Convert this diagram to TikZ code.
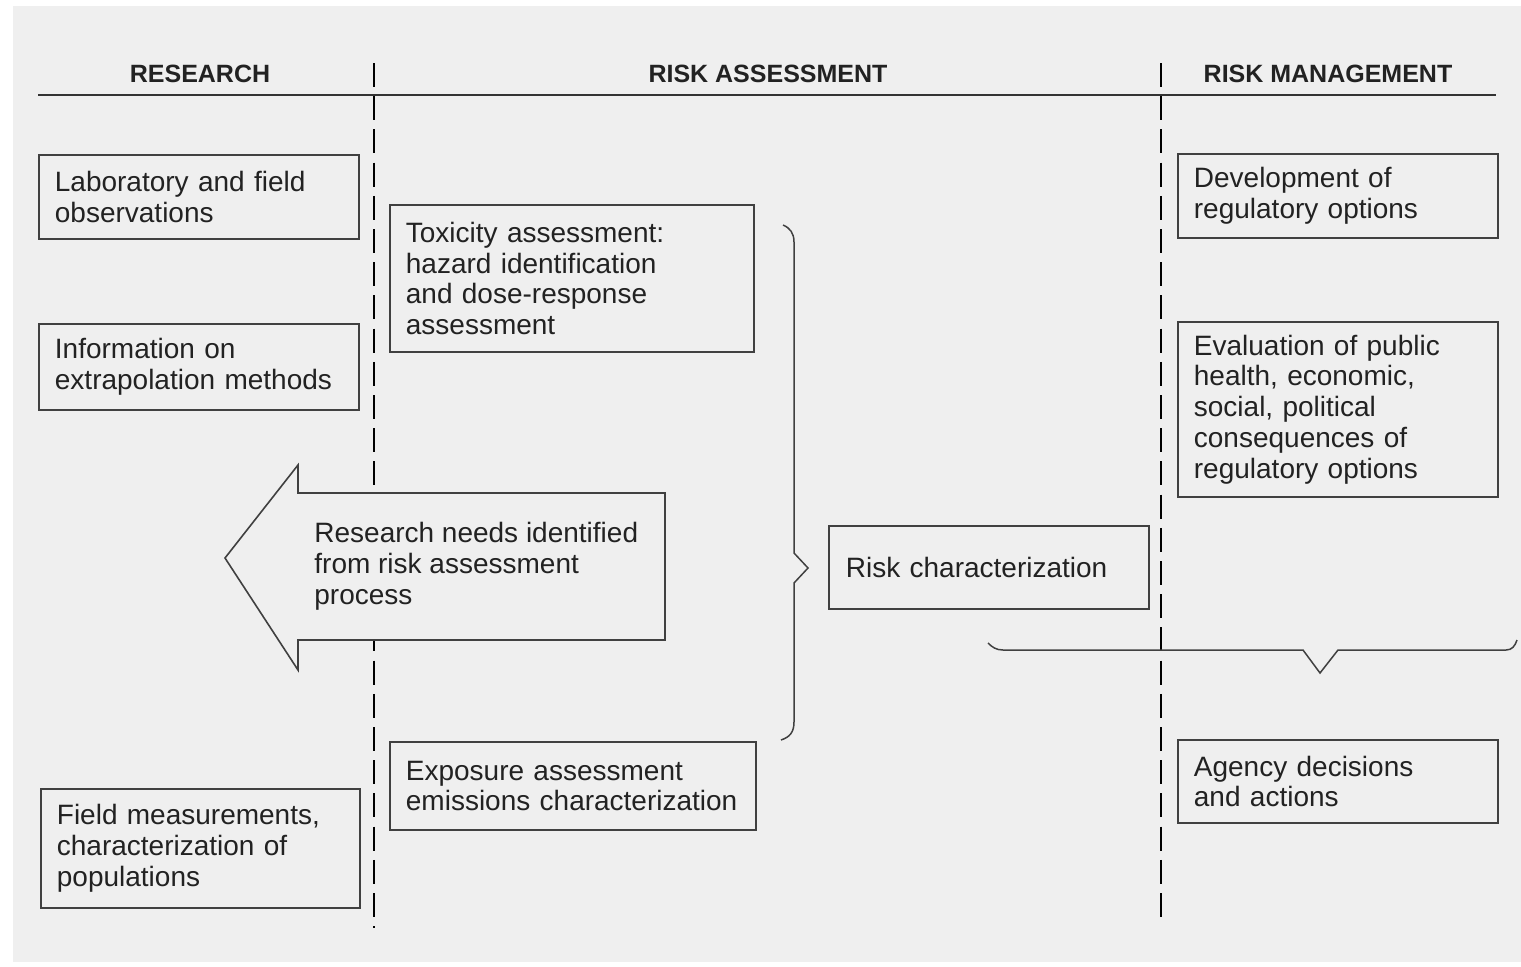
\documentclass[tikz,border=0pt]{standalone}
\usepackage{fontspec}
\setmainfont{Liberation Sans}
\newcommand{\dgbody}{\fontsize{14}{15.4}\selectfont}
\newcommand{\dghead}{\fontsize{12.5}{14}\selectfont\bfseries}
\definecolor{bggray}{HTML}{EFEFEF}
\definecolor{inkc}{HTML}{222222}
\tikzset{
  box/.style={draw=black!75, line width=0.9pt, rectangle, anchor=north west,
    align=left, inner xsep=8pt, inner ysep=0pt, font=\dgbody, text=inkc},
  head/.style={font=\dghead, text=inkc, anchor=base},
  divider/.style={draw=black, line width=1.2pt, dash pattern=on 12pt off 4.6pt},
  rule/.style={draw=black!80, line width=0.75pt},
  brace/.style={draw=black!75, line width=0.75pt, line join=miter},
}
\begin{document}
\begin{tikzpicture}[x=0.5pt,y=-0.5pt]
\useasboundingbox (0,0) rectangle (1521,966);
\fill[white] (0,0) rectangle (1521,966);
\fill[bggray] (13,6) rectangle (1521,962);

% headings
\node[head] (hres) at (200,82) {RESEARCH};
\node[head] (hra) at (768,82) {RISK ASSESSMENT};
\node[head] (hrm) at (1328,82) {RISK MANAGEMENT};

% rule and dividers
\coordinate (rl) at (38,95);
\coordinate (rr) at (1496,95);
\draw[rule] (rl) -- (rr);
\coordinate (d1t) at (374,63);
\coordinate (d1b) at (374,928);
\coordinate (d2t) at (1161,63);
\coordinate (d2b) at (1161,926);
\draw[divider] (d1t) -- (d1b);
\draw[divider] (d2t) -- (d2b);

% research column
\node[box, text width=144pt, minimum height=42pt] (lab) at (38,154)
  {Laboratory and field\\observations};
\node[box, text width=144pt, minimum height=43pt] (info) at (38,323)
  {Information on\\extrapolation methods};
\node[box, text width=143.5pt, minimum height=59.5pt] (field) at (40,788)
  {Field measurements,\\characterization of\\populations};

% risk assessment column
\node[box, text width=166pt, minimum height=73.5pt] (tox) at (389,204)
  {Toxicity assessment:\\hazard identification\\and dose-response\\assessment};
\node[box, text width=167pt, minimum height=44pt] (expo) at (389,741)
  {Exposure assessment\\emissions characterization};
\node[box, text width=143pt, inner xsep=8.5pt, minimum height=41.5pt] (riskc) at (828,525)
  {Risk characterization};

% risk management column
\node[box, text width=144pt, minimum height=42pt] (dev) at (1177,153)
  {Development of\\regulatory options};
\node[box, text width=144pt, minimum height=87.5pt] (eval) at (1177,321)
  {Evaluation of public\\health, economic,\\social, political\\consequences of\\regulatory options};
\node[box, text width=144pt, minimum height=41.5pt] (agency) at (1177,739)
  {Agency decisions\\and actions};

% big arrow
\draw[draw=black!75, line width=0.8pt, fill=bggray, line join=miter]
  (225,558) -- (298,465) -- (298,493) -- (665,493) -- (665,640)
  -- (298,640) -- (298,670) -- cycle;
\node[anchor=west, align=left, font=\dgbody, text=inkc, inner sep=0pt] (arrtext) at (314,566)
  {Research needs identified\\from risk assessment\\process};

% braces
\draw[brace] (783,225) .. controls (790,228) and (794,233) .. (794,242)
  -- (794,553) -- (808,568) -- (794,583) -- (794,722)
  .. controls (794,732) and (790,737) .. (781,740);
\draw[brace] (988,643) .. controls (992,647) and (996,650) .. (1003,650)
  -- (1303,650) -- (1320,673) -- (1338,650) -- (1506,650)
  .. controls (1512,650) and (1515,646) .. (1517,640);
\end{tikzpicture}
\end{document}
